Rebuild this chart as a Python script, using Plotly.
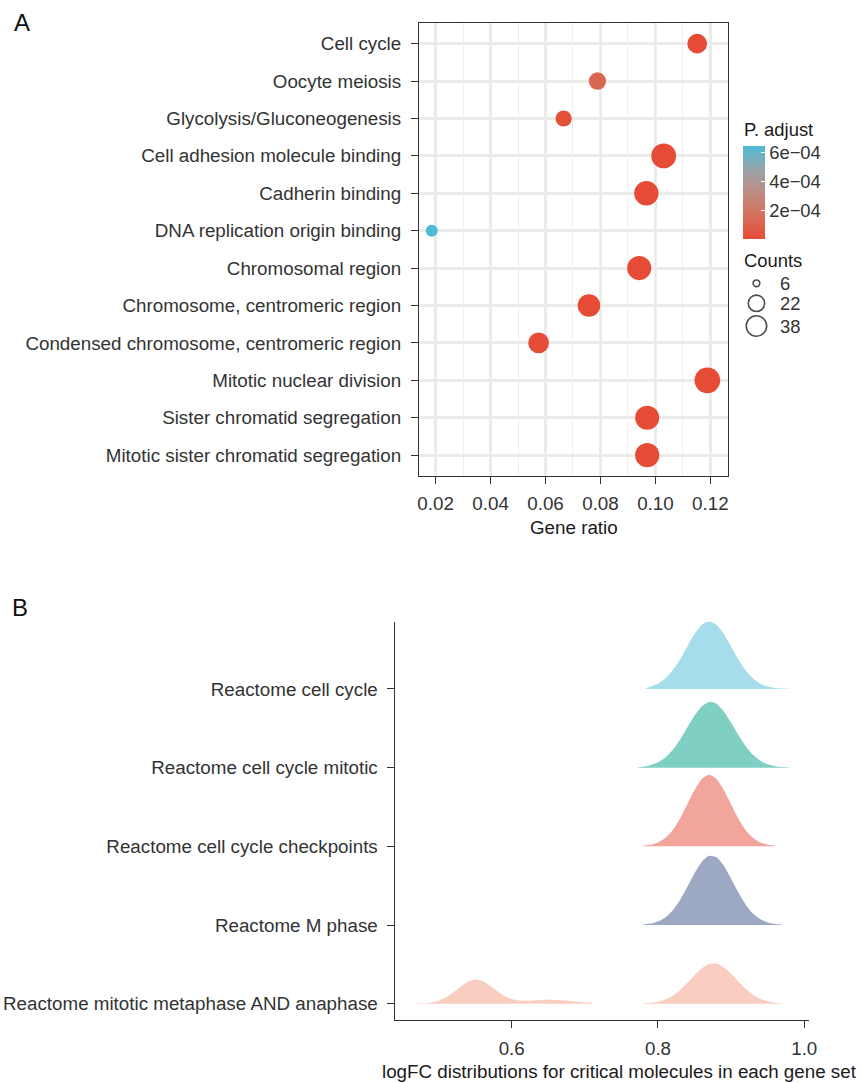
import math
import plotly.graph_objects as go

# ---------------- Panel A: enrichment dot plot ----------------
terms = [
    "Cell cycle",
    "Oocyte meiosis",
    "Glycolysis/Gluconeogenesis",
    "Cell adhesion molecule binding",
    "Cadherin binding",
    "DNA replication origin binding",
    "Chromosomal region",
    "Chromosome, centromeric region",
    "Condensed chromosome, centromeric region",
    "Mitotic nuclear division",
    "Sister chromatid segregation",
    "Mitotic sister chromatid segregation",
]
gene_ratio = [0.1152, 0.0789, 0.0666, 0.1030, 0.0967, 0.0186,
              0.0941, 0.0758, 0.0575, 0.1189, 0.0970, 0.0970]
counts = [16, 11, 9, 34, 32, 6, 31, 25, 19, 38, 31, 31]
p_adjust = [4.1e-7, 1.3e-4, 2.6e-5, 8.9e-9, 3.4e-8, 6.5e-4,
            1.2e-10, 5.6e-9, 7.8e-8, 2.3e-12, 4.5e-11, 6.1e-11]
x_ticks_a = [0.02, 0.04, 0.06, 0.08, 0.10, 0.12]
x_minor_a = [0.03, 0.05, 0.07, 0.09, 0.11]
p_ticks = [2e-4, 4e-4, 6e-4]
p_tick_text = ["2e\u221204", "4e\u221204", "6e\u221204"]
count_breaks = [6, 22, 38]

# ---------------- Panel B: logFC ridgelines ----------------
gene_sets = [
    "Reactome cell cycle",
    "Reactome cell cycle mitotic",
    "Reactome cell cycle checkpoints",
    "Reactome M phase",
    "Reactome mitotic metaphase AND anaphase",
]
cc_x = [0.783, 0.79, 0.80, 0.81, 0.82, 0.83, 0.84, 0.85, 0.86, 0.87, 0.88,
        0.89, 0.90, 0.91, 0.92, 0.93, 0.94, 0.95, 0.96, 0.97, 0.98]
cc_d = [0.0, 0.46, 1.01, 1.99, 3.52, 5.61, 8.08, 10.47, 12.24, 12.9, 12.24,
        10.47, 8.08, 5.61, 3.52, 1.99, 1.01, 0.46, 0.19, 0.07, 0.0]
mit_x = [0.772, 0.78, 0.79, 0.80, 0.81, 0.82, 0.83, 0.84, 0.85, 0.86, 0.87,
         0.88, 0.89, 0.90, 0.91, 0.92, 0.93, 0.94, 0.95, 0.96, 0.97, 0.98]
mit_d = [0.0, 0.20, 0.48, 1.01, 1.92, 3.37, 5.32, 7.63, 9.93, 11.72, 12.55,
         12.18, 10.73, 8.57, 6.21, 4.09, 2.44, 1.32, 0.64, 0.29, 0.12, 0.04]
chk_x = [0.78, 0.79, 0.80, 0.81, 0.82, 0.83, 0.84, 0.85, 0.86, 0.87,
         0.88, 0.89, 0.90, 0.91, 0.92, 0.93, 0.94, 0.95, 0.96]
chk_d = [0.11, 0.30, 0.74, 1.61, 3.08, 5.27, 8.0, 10.76, 12.86, 13.65,
         12.86, 10.76, 8.0, 5.27, 3.08, 1.61, 0.74, 0.30, 0.11]
mph_x = [0.78, 0.79, 0.80, 0.81, 0.82, 0.83, 0.84, 0.85, 0.86, 0.87,
         0.88, 0.89, 0.90, 0.91, 0.92, 0.93, 0.94, 0.95, 0.96, 0.97]
mph_d = [0.11, 0.29, 0.69, 1.46, 2.79, 4.75, 7.25, 9.89, 12.08, 13.2,
         12.91, 11.3, 8.85, 6.2, 3.89, 2.18, 1.10, 0.49, 0.20, 0.07]
meta_left_x = [0.47, 0.48, 0.49, 0.50, 0.51, 0.52, 0.53, 0.54, 0.55, 0.56,
               0.57, 0.58, 0.59, 0.60, 0.61, 0.62, 0.63, 0.64, 0.65, 0.66,
               0.67, 0.68, 0.69, 0.70, 0.71]
meta_left_d = [0.02, 0.08, 0.24, 0.58, 1.21, 2.15, 3.25, 4.20, 4.63, 4.34,
               3.47, 2.42, 1.49, 0.88, 0.61, 0.56, 0.62, 0.70, 0.75, 0.73,
               0.64, 0.51, 0.37, 0.24, 0.15]
meta_right_x = [0.78, 0.79, 0.80, 0.81, 0.82, 0.83, 0.84, 0.85, 0.86, 0.87,
                0.88, 0.89, 0.90, 0.91, 0.92, 0.93, 0.94, 0.95, 0.96, 0.97]
meta_right_d = [0.06, 0.16, 0.38, 0.80, 1.51, 2.57, 3.94, 5.44, 6.77, 7.59,
                7.67, 6.98, 5.73, 4.24, 2.82, 1.70, 0.92, 0.45, 0.20, 0.08]
x_ticks_b = [0.6, 0.8, 1.0]

# ---------------- styling ----------------
W, H = 862, 1083
FONT = "Liberation Sans, Arial, Helvetica, sans-serif"
TXT = "#333333"
FS = 18.8
RED_TO_BLUE = [[0.0, "#E64B35"], [0.25, "#D56F5C"], [0.5, "#BD8B83"],
               [0.75, "#98A4AB"], [1.0, "#4DBBD5"]]
RIDGE_COLORS = ["rgba(77,187,213,0.5)", "rgba(0,160,135,0.5)",
                "rgba(230,75,53,0.5)", "rgba(60,84,136,0.5)",
                "rgba(243,155,127,0.5)"]
ROWS_PER_DENSITY = 0.0666


def fx(px):
    return px / W


def fy(py):
    return 1 - py / H


cmin_c, cmax_c = min(counts), max(counts)


def dot_size(c):
    # area-style size scale: 12 px at the smallest count, 25.7 px at the largest
    return 12 + 13.7 * math.sqrt((c - cmin_c) / (cmax_c - cmin_c))


fig = go.Figure()

# Panel A points
fig.add_trace(go.Scatter(
    x=gene_ratio, y=terms, mode="markers", xaxis="x", yaxis="y",
    marker=dict(
        size=[dot_size(c) for c in counts], sizemode="diameter",
        color=p_adjust, colorscale=RED_TO_BLUE,
        cmin=min(p_adjust), cmax=max(p_adjust), line=dict(width=0), opacity=1,
        showscale=True,
        colorbar=dict(
            x=fx(750), xanchor="left", y=fy(145.7), yanchor="top",
            len=92.6, lenmode="pixels", thickness=22, thicknessmode="pixels",
            xpad=0, ypad=0, outlinewidth=0,
            tickmode="array", tickvals=p_ticks, ticktext=p_tick_text,
            ticks="inside", ticklen=4, tickcolor="white", tickwidth=1,
            tickfont=dict(family=FONT, size=18.4, color=TXT),
            title=dict(text=""),
        ),
    ),
    showlegend=False, hoverinfo="skip",
))

# Panel B ridges
segments = [
    (0, cc_x, cc_d), (1, mit_x, mit_d), (2, chk_x, chk_d), (3, mph_x, mph_d),
    (4, meta_left_x, meta_left_d), (4, meta_right_x, meta_right_d),
]
n_sets = len(gene_sets)
for idx, xs, ds in segments:
    base = n_sets - idx
    px_ = [xs[0]] + list(xs) + [xs[-1]]
    py_ = [base] + [base + d * ROWS_PER_DENSITY for d in ds] + [base]
    fig.add_trace(go.Scatter(
        x=px_, y=py_, xaxis="x2", yaxis="y2", mode="lines",
        line=dict(width=0, shape="spline", smoothing=0.6),
        fill="toself", fillcolor=RIDGE_COLORS[idx],
        showlegend=False, hoverinfo="skip",
    ))

# Counts size legend (pixel overlay axes)
key_y = [283.3, 303.3, 326.0]
fig.add_trace(go.Scatter(
    x=[763.3] * len(count_breaks), y=key_y, xaxis="x3", yaxis="y3",
    mode="markers",
    marker=dict(symbol="circle-open", size=[dot_size(c) - 5.3 for c in count_breaks],
                color="black", line=dict(width=1.6, color="black")),
    showlegend=False, hoverinfo="skip",
))

annotations = []
for c, yy in zip(count_breaks, key_y):
    annotations.append(dict(x=fx(785), y=fy(yy), xref="paper", yref="paper",
                            text=str(c), showarrow=False, xanchor="left",
                            yanchor="middle", font=dict(family=FONT, size=18.4, color=TXT)))
annotations += [
    dict(x=fx(749), y=fy(129.5), xref="paper", yref="paper", text="P. adjust",
         showarrow=False, xanchor="left", yanchor="middle",
         font=dict(family=FONT, size=18.4, color="#1a1a1a")),
    dict(x=fx(749), y=fy(260), xref="paper", yref="paper", text="Counts",
         showarrow=False, xanchor="left", yanchor="middle",
         font=dict(family=FONT, size=18.4, color="#1a1a1a")),
    dict(x=fx(578.5), y=fy(527.3), xref="paper", yref="paper", text="Gene ratio",
         showarrow=False, xanchor="center", yanchor="middle",
         font=dict(family=FONT, size=FS, color="#1a1a1a")),
    dict(x=fx(382), y=fy(1071), xref="paper", yref="paper",
         text="logFC distributions for critical molecules in each gene set",
         showarrow=False, xanchor="left", yanchor="middle",
         font=dict(family=FONT, size=FS, color="#1a1a1a")),
    dict(x=fx(20), y=fy(22), xref="paper", yref="paper", text="A",
         showarrow=False, xanchor="center", yanchor="middle",
         font=dict(family=FONT, size=24, color="#111111")),
    dict(x=fx(18.5), y=fy(607.5), xref="paper", yref="paper", text="B",
         showarrow=False, xanchor="center", yanchor="middle",
         font=dict(family=FONT, size=24, color="#111111")),
]

fig.update_layout(
    width=W, height=H, margin=dict(l=0, r=0, t=0, b=0),
    paper_bgcolor="white", plot_bgcolor="rgba(0,0,0,0)",
    font=dict(family=FONT, size=FS, color=TXT),
    annotations=annotations,
    xaxis=dict(
        domain=[fx(422), fx(735)], range=[0.0140, 0.12658], anchor="y",
        tickmode="array", tickvals=x_ticks_a, ticktext=[f"{v:.2f}" for v in x_ticks_a],
        showgrid=True, gridcolor="#EBEBEB", gridwidth=2.6,
        minor=dict(tickmode="array", tickvals=x_minor_a, showgrid=True,
                   gridcolor="#EEEEEE", gridwidth=1.4, ticks=""),
        showline=True, mirror=True, linecolor="#333333", linewidth=1.3,
        ticks="outside", ticklen=7, tickcolor="#333333", tickwidth=1.3,
        ticklabelstandoff=4,
        tickfont=dict(family=FONT, size=FS, color=TXT), zeroline=False,
    ),
    yaxis=dict(
        domain=[fy(475.7), fy(23.1)], anchor="x",
        type="category", categoryorder="array", categoryarray=terms[::-1],
        range=[-0.55, len(terms) - 1 + 0.55],
        showgrid=True, gridcolor="#EBEBEB", gridwidth=2.6,
        showline=True, mirror=True, linecolor="#333333", linewidth=1.3,
        ticks="outside", ticklen=7, tickcolor="#333333", tickwidth=1.3,
        ticklabelstandoff=6,
        tickfont=dict(family=FONT, size=FS, color=TXT), zeroline=False,
    ),
    xaxis2=dict(
        domain=[fx(397.3), fx(816.7)], range=[0.44, 1.0068], anchor="y2",
        tickmode="array", tickvals=x_ticks_b, ticktext=[f"{v:.1f}" for v in x_ticks_b],
        showgrid=False, showline=True, linecolor="#333333", linewidth=1.3,
        ticks="outside", ticklen=7, tickcolor="#333333", tickwidth=1.3,
        ticklabelstandoff=4,
        tickfont=dict(family=FONT, size=FS, color=TXT), zeroline=False,
    ),
    yaxis2=dict(
        domain=[fy(1020), fy(621.7)], range=[0.793, 5.855], anchor="x2",
        tickmode="array", tickvals=[n_sets - i for i in range(n_sets)],
        ticktext=gene_sets,
        showgrid=False, showline=True, linecolor="#333333", linewidth=1.3,
        ticks="outside", ticklen=7, tickcolor="#333333", tickwidth=1.3,
        ticklabelstandoff=5,
        tickfont=dict(family=FONT, size=FS, color=TXT), zeroline=False,
    ),
    xaxis3=dict(domain=[0, 1], range=[0, W], visible=False, anchor="y3",
                fixedrange=True),
    yaxis3=dict(domain=[0, 1], range=[H, 0], visible=False, anchor="x3",
                fixedrange=True),
)

fig.write_html("out.html")
